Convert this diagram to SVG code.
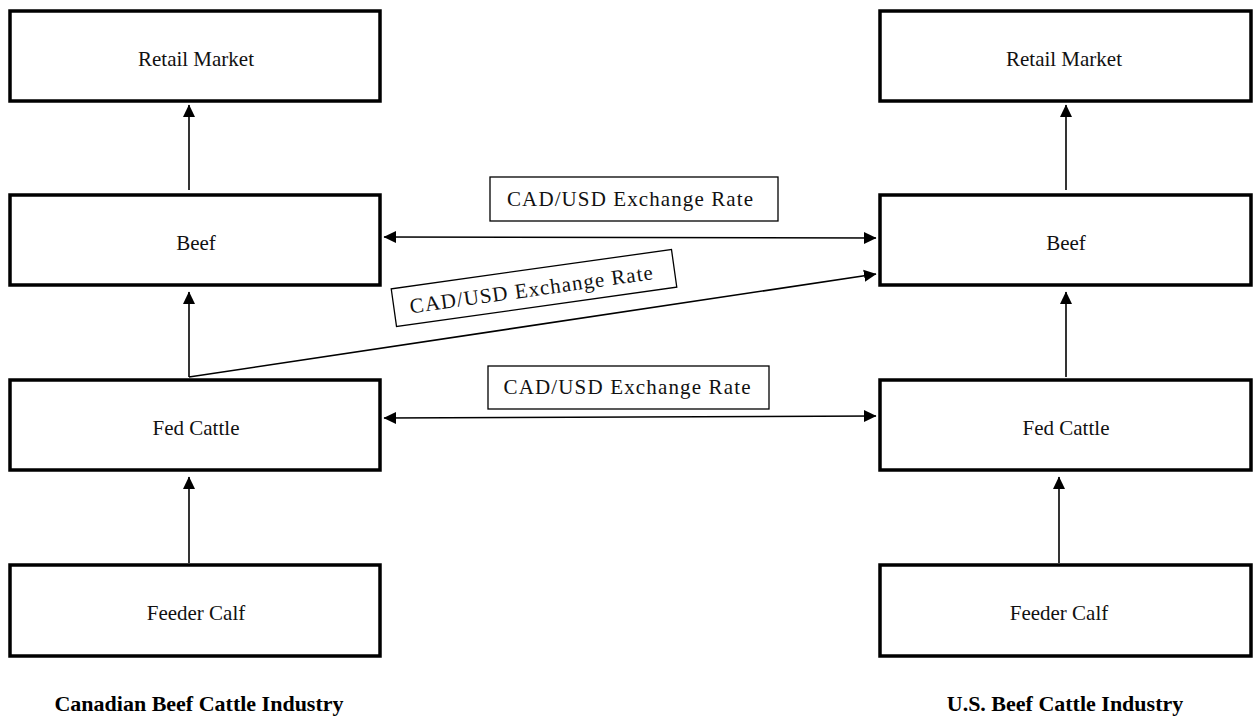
<svg xmlns="http://www.w3.org/2000/svg" width="1257" height="719" viewBox="0 0 1257 719">
<style>
.node{fill:#fff;stroke:#000;stroke-width:3.5}
.lbl{fill:#fff;stroke:#000;stroke-width:1.3}
.t{font-family:"Liberation Serif","Times New Roman",serif;font-size:21px;fill:#111;text-anchor:middle}
.title{font-family:"Liberation Serif","Times New Roman",serif;font-size:22px;font-weight:bold;fill:#000;text-anchor:middle}
.c{stroke:#000;stroke-width:1.6;fill:none}
</style>
<defs>
<marker id="ah" markerUnits="userSpaceOnUse" markerWidth="13" markerHeight="13" refX="12" refY="6.5" orient="auto-start-reverse" viewBox="0 0 13 13">
<path d="M0,0.5 L12.5,6.5 L0,12.5 z" fill="#000"/>
</marker>
</defs>
<g id="connectors">
<line class="c" x1="189" y1="190" x2="189" y2="105" marker-end="url(#ah)"/>
<line class="c" x1="189" y1="377" x2="189" y2="292" marker-end="url(#ah)"/>
<line class="c" x1="189" y1="563" x2="189" y2="477" marker-end="url(#ah)"/>
<line class="c" x1="1066" y1="190" x2="1066" y2="105" marker-end="url(#ah)"/>
<line class="c" x1="1066" y1="377" x2="1066" y2="292" marker-end="url(#ah)"/>
<line class="c" x1="1059" y1="563" x2="1059" y2="477" marker-end="url(#ah)"/>
<line class="c" x1="384" y1="237" x2="876" y2="238" marker-start="url(#ah)" marker-end="url(#ah)"/>
<line class="c" x1="384" y1="418" x2="876" y2="416" marker-start="url(#ah)" marker-end="url(#ah)"/>
<line class="c" x1="189" y1="377" x2="876" y2="274" marker-end="url(#ah)"/>
</g>
<g id="label-beef">
<rect class="lbl" x="490" y="177" width="288" height="44"/>
<text class="t" x="630" y="206" textLength="246" lengthAdjust="spacing">CAD/USD Exchange Rate</text>
</g>
<g id="label-diag" transform="translate(534,288) rotate(-8)">
<rect class="lbl" x="-141.5" y="-19" width="283" height="38"/>
<text class="t" x="-3" y="8" textLength="245" lengthAdjust="spacing">CAD/USD Exchange Rate</text>
</g>
<g id="label-fed">
<rect class="lbl" x="488" y="366" width="281" height="43"/>
<text class="t" x="627" y="394" textLength="247" lengthAdjust="spacing">CAD/USD Exchange Rate</text>
</g>
<g id="ca-retail"><rect class="node" x="10" y="11" width="370" height="90"/><text class="t" x="196" y="66">Retail Market</text></g>
<g id="ca-beef"><rect class="node" x="10" y="195" width="370" height="90"/><text class="t" x="196" y="250">Beef</text></g>
<g id="ca-fed"><rect class="node" x="10" y="380" width="370" height="90"/><text class="t" x="196" y="435">Fed Cattle</text></g>
<g id="ca-feeder"><rect class="node" x="10" y="565" width="370" height="91"/><text class="t" x="196" y="620">Feeder Calf</text></g>
<g id="us-retail"><rect class="node" x="880" y="11" width="371" height="90"/><text class="t" x="1064" y="66">Retail Market</text></g>
<g id="us-beef"><rect class="node" x="880" y="195" width="371" height="90"/><text class="t" x="1066" y="250">Beef</text></g>
<g id="us-fed"><rect class="node" x="880" y="380" width="371" height="90"/><text class="t" x="1066" y="435">Fed Cattle</text></g>
<g id="us-feeder"><rect class="node" x="880" y="565" width="371" height="91"/><text class="t" x="1059" y="620">Feeder Calf</text></g>
<g id="titles">
<text class="title" x="199" y="711">Canadian Beef Cattle Industry</text>
<text class="title" x="1065" y="711">U.S. Beef Cattle Industry</text>
</g>
</svg>
